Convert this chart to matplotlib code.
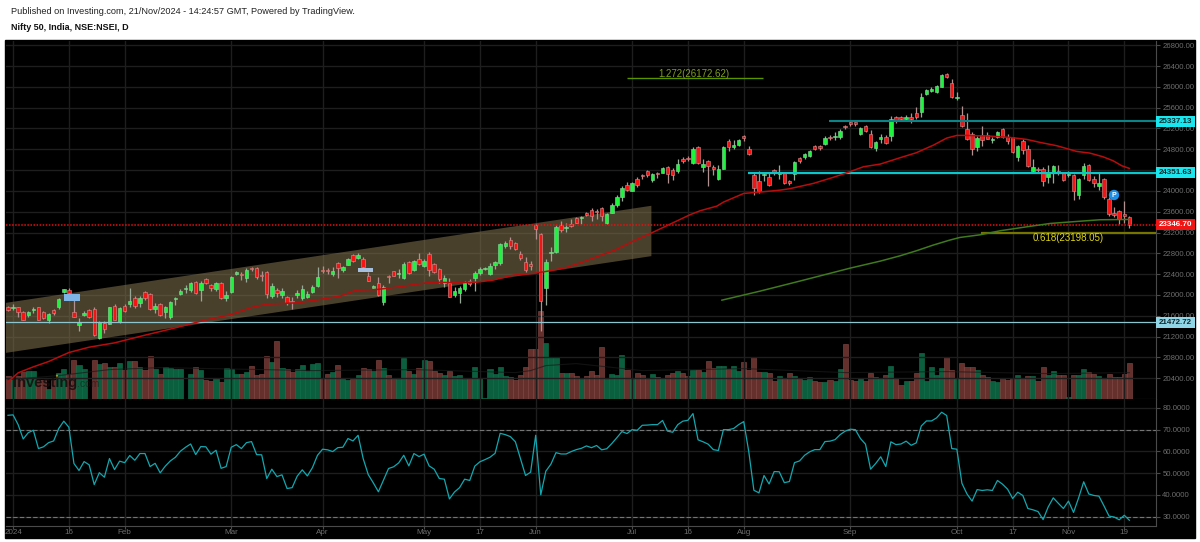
import numpy as np
import matplotlib
matplotlib.use('Agg')
import matplotlib.pyplot as plt
from matplotlib.patches import Rectangle, Polygon, Circle
from matplotlib.transforms import blended_transform_factory

plt.rcParams['font.family'] = ['Liberation Sans', 'DejaVu Sans']

# Daily candles
opens = [21759,21740,21759,21669,21605,21708,21759,21676,21528,21708,
         21772,22054,22092,21663,21419,21611,21720,21727,21182,21458,
         21445,21791,21477,21791,21829,21938,21836,22060,22022,21733,
         21823,21663,21567,21926,22015,22105,22092,22252,22092,22310,
         22182,22105,22233,21945,22054,22406,22393,22329,22522,22522,
         22374,22438,21983,22092,22002,21958,21874,21990,21939,21958,
         22061,22170,22477,22477,22394,22612,22477,22580,22766,22708,
         22695,22355,22125,22234,21862,22349,22452,22400,22323,22625,
         22471,22695,22560,22785,22586,22503,22234,22234,21990,22035,
         22112,22266,22323,22420,22503,22400,22580,22605,22939,23054,
         22996,22785,22631,22593,23349,23179,22125,22810,22817,23336,
         23291,23362,23477,23477,23580,23631,23612,23669,23387,23579,
         23720,23880,24105,24002,24233,24297,24374,24207,24336,24348,
         24464,24400,24387,24605,24630,24528,24848,24451,24579,24451,
         24220,24425,24951,24836,24880,25047,24797,24310,24195,24297,
         24259,24393,24323,24336,24195,24323,24637,24656,24669,24861,
         24855,24900,25034,25028,25028,25252,25329,25316,25098,25252,
         25092,24816,24989,25034,25060,25425,25412,25387,25412,25489,
         25521,25868,25925,25900,26002,26252,26066,25784,25457,25188,
         25092,24836,25066,25066,24977,25028,25188,25028,25028,24656,
         24964,24797,24387,24413,24425,24259,24336,24374,24348,24297,
         24310,23925,24310,24496,24220,24092,24233,23836,23566,23605,
         23547,23496]
closes = [21720,21765,21676,21528,21669,21733,21528,21560,21631,21644,
          21913,22105,22028,21579,21483,21656,21579,21227,21477,21355,
          21759,21528,21740,21695,21881,21785,21938,21938,21733,21797,
          21611,21759,21861,21938,22067,22118,22220,22041,22233,22220,
          22124,22220,21945,21996,22349,22432,22374,22483,22496,22336,
          22361,22015,22169,22028,22073,21836,21861,22041,22105,22016,
          22144,22336,22452,22458,22452,22509,22528,22682,22644,22766,
          22528,22272,22163,21990,22157,22336,22368,22413,22593,22413,
          22657,22593,22650,22484,22432,22298,22317,21964,22073,22125,
          22221,22208,22420,22490,22522,22554,22631,22977,23003,22939,
          22887,22702,22484,22554,23272,21887,22631,22830,23310,23246,
          23310,23317,23387,23490,23541,23522,23586,23515,23547,23727,
          23880,24047,24015,24150,24118,24278,24297,24323,24323,24438,
          24316,24310,24515,24579,24618,24804,24528,24515,24477,24413,
          24419,24836,24836,24874,24970,25015,24707,24054,23996,24310,
          24111,24342,24361,24143,24143,24553,24566,24707,24771,24810,
          24823,25021,25015,25053,25156,25227,25278,25278,25207,25143,
          24848,24938,25041,24912,25380,25361,25380,25425,25387,25412,
          25803,25938,25951,26009,26227,26182,25810,25797,25252,24996,
          24797,25015,24977,25002,25002,25137,25041,24964,24746,24861,
          24784,24477,24451,24393,24195,24361,24477,24348,24207,24323,
          24002,24220,24477,24207,24143,24143,23874,23554,23541,23464,
          23515,23348]
highs = [21785,21823,21772,21682,21695,21765,21772,21695,21656,21733,
         21938,22118,22131,21996,21554,21688,21733,21759,21490,21502,
         21772,21823,21759,21823,22143,21977,21977,22079,22041,21836,
         21849,21797,21887,21964,22105,22188,22246,22272,22272,22323,
         22208,22246,22252,22067,22361,22458,22432,22509,22541,22541,
         22464,22458,22220,22124,22143,21977,21964,22092,22182,22067,
         22195,22541,22548,22516,22528,22637,22554,22702,22785,22798,
         22734,22432,22195,22336,22182,22375,22464,22490,22637,22650,
         22670,22810,22695,22817,22618,22516,22381,22317,22144,22176,
         22272,22304,22452,22528,22541,22605,22657,23003,23041,23118,
         23022,22836,22721,22657,23362,23195,22682,22913,23336,23426,
         23387,23451,23490,23516,23593,23663,23644,23695,23579,23759,
         23919,24092,24175,24175,24259,24323,24400,24348,24361,24451,
         24477,24432,24605,24643,24669,24836,24861,24605,24592,24496,
         24502,24861,25002,24977,24989,25079,24861,24336,24387,24336,
         24336,24425,24489,24348,24207,24566,24656,24720,24784,24874,
         24874,25053,25066,25130,25182,25271,25348,25329,25233,25271,
         25169,24964,25092,25073,25438,25438,25438,25457,25489,25618,
         25874,25964,26002,26028,26239,26271,26143,25906,25637,25489,
         25137,25053,25246,25137,25041,25156,25214,25092,25041,24887,
         24989,24874,24618,24464,24451,24502,24489,24489,24368,24374,
         24323,24239,24541,24515,24284,24348,24246,23887,23682,23631,
         23797,23515]
lows = [21688,21708,21579,21515,21567,21656,21515,21541,21464,21611,
        21733,22028,22002,21567,21304,21592,21560,21208,21156,21272,
        21432,21515,21464,21669,21759,21746,21759,21900,21708,21656,
        21592,21554,21541,21804,21990,22028,22054,22022,21887,22208,
        22079,22079,21926,21887,22041,22374,22284,22252,22451,22310,
        22265,21932,21938,21964,21932,21810,21727,21945,21900,21945,
        22041,22144,22426,22400,22362,22323,22439,22567,22631,22682,
        22503,22259,22105,21977,21798,22221,22355,22330,22311,22400,
        22452,22573,22541,22368,22413,22234,22157,21952,21952,21836,
        22080,22170,22067,22375,22477,22375,22490,22580,22900,22887,
        22862,22670,22432,22477,23080,21310,21810,22657,22798,23208,
        23214,23298,23375,23362,23516,23419,23458,23412,23361,23566,
        23695,23810,23996,23989,24066,24220,24271,24169,24239,24336,
        24156,24207,24348,24528,24579,24515,24515,24361,24092,24310,
        24207,24413,24771,24810,24861,24957,24695,23913,23964,24195,
        24092,24304,24220,24131,24118,24207,24528,24618,24656,24784,
        24784,24880,24977,24977,25002,25195,25246,25252,25073,25130,
        24816,24771,24912,24900,24964,25297,25348,25361,25297,25387,
        25425,25848,25900,25887,25989,26162,25791,25746,25233,24977,
        24695,24771,24861,24989,24925,25009,25021,24900,24733,24579,
        24707,24451,24361,24361,24092,24156,24156,24304,24182,24259,
        23823,23848,24220,24182,24066,24015,23848,23515,23489,23361,
        23374,23284]

# Volume (no scale on the chart, relative units)
volumes = [24,21,24,28,29,29,20,20,11,20,27,31,26,40,35,31,0.5,40,36,37,
           33,33,37,30,39,39,33,30,44,31,26,33,32,31,31,0.5,26,33,30,20,
           19,22,18,32,31,26,26,28,34,25,26,44,38,59,32,31,28,31,35,29,
           36,37,22,26,28,35,22,20,21,25,32,31,29,40,32,25,21,21,42,29,
           26,32,40,39,29,27,25,29,24,25,21,21,33,22,2,31,26,33,24,23,
           20,25,33,51,51,89,57,43,43,27,27,27,24,21,24,29,25,53,21,26,
           25,45,30,21,27,25,22,26,23,22,25,27,29,27,24,30,30,28,39,32,
           34,34,31,34,29,38,30,43,28,28,27,19,24,21,27,24,21,20,23,19,
           18,18,20,19,31,56,20,19,22,19,27,23,22,25,34,22,15,19,19,27,
           47,19,33,25,32,43,30,22,37,33,33,30,25,23,19,18,22,20,22,25,
           21,24,24,19,33,25,29,25,25,3,25,25,31,28,26,24,22,26,23,23,
           26,37]
vol_ma_idx = [0,10,20,30,50,60,80,100,103,106,112,125,145,165,185,205,221]
vol_ma = [20,24,30,32,30,29,30,27,29,34,36,29,31,27,28,26,27]

# RSI
rsi = [76.6,76.8,72.3,65.7,68.6,69.7,61.3,62.1,64.0,64.8,70.5,73.9,71.1,54.4,51.2,55.3,53.8,44.7,50.2,48.1,
       56.7,51.6,55.5,54.8,58.1,55.9,59.0,59.0,53.0,54.5,50.1,53.2,55.6,57.3,60.1,61.9,63.4,58.5,62.2,62.1,
       58.7,60.5,52.2,53.0,61.9,63.1,61.3,64.0,64.5,58.5,58.4,47.5,51.8,48.4,49.2,42.9,43.3,48.6,51.5,48.7,
       52.5,58.2,61.0,60.7,59.9,61.7,61.9,65.9,64.8,67.4,56.7,49.3,45.5,41.4,46.7,52.1,52.9,54.7,58.2,53.3,
       59.0,57.6,58.7,53.3,51.8,47.5,47.2,38.1,41.3,43.3,47.2,46.6,53.2,55.2,56.2,57.3,59.1,68.3,67.7,66.8,
       64.4,56.7,48.9,50.4,67.4,40.0,50.9,54.1,59.4,58.8,58.8,59.9,60.8,61.4,62.5,61.7,62.7,60.7,61.2,63.6,
       66.3,69.1,68.2,70.0,69.7,72.0,72.1,72.3,72.3,74.2,69.3,68.8,72.3,73.9,74.3,77.4,65.3,64.4,63.3,60.8,
       60.4,70.0,70.0,70.5,72.3,73.7,59.8,42.1,40.9,48.9,45.0,50.7,50.6,45.6,46.1,54.8,55.6,58.2,59.8,60.8,
       60.8,64.5,64.7,65.4,67.7,69.3,70.2,70.0,65.9,63.3,51.8,54.4,57.5,53.0,64.4,63.1,63.4,64.7,62.8,63.9,
       71.7,74.0,74.0,75.4,78.0,76.5,61.3,61.0,45.3,40.4,37.1,42.4,42.0,42.3,42.0,46.6,44.9,42.6,38.3,41.2,
       39.7,33.7,33.1,32.3,28.6,34.4,38.6,36.1,33.7,37.1,31.9,38.6,46.0,40.4,39.7,39.4,34.9,30.2,29.8,28.5,
       30.6,28.3]

# Moving averages, read at the bends
ma50_idx = [0,2,5,8,12,16,21,27,33,38,44,48,51,57,61.5,65.4,68.7,72.7,77.2,80.5,83.8,88.4,92.4,95.6,99.6,
            103.5,106.8,110,113.4,116.7,119.6,123.2,126.9,129.8,134.4,136.4,139.7,141,145,148.2,152.2,154,
            158.7,162.6,165.9,168.6,171.9,175.8,179,182.4,185,187,188.8,193.5,197.5,200.8,203.4,206.7,210.6,
            213.2,215.8,217.8,219.5,221]
ma50 = [20329,20503,20618,20720,20893,20996,21079,21227,21368,21496,21624,21759,21823,21849,21913,21977,22093,
        22105,22157,22208,22246,22234,22246,22285,22381,22413,22464,22528,22637,22759,22861,23034,23195,23329,
        23541,23618,23707,23784,23951,23977,24015,24041,24143,24259,24368,24464,24515,24637,24733,24880,25015,
        25066,25066,25053,25028,24989,24932,24868,24759,24727,24656,24579,24483,24432]
ma200_idx = [140.7,148.2,156,166,171.9,175.8,179,182.3,185.6,187.6,191.6,195.5,200.8,205.4,210.7,215.2,220.9]
ma200 = [21900,22073,22265,22516,22650,22752,22848,22957,23054,23105,23156,23233,23310,23374,23413,23445,23451]

# Price and RSI scales
price_ticks = [26800,26400,26000,25600,25200,24800,24400,24000,23600,23200,22800,22400,22000,21600,21200,20800,20400]
rsi_ticks = [80,70,60,50,40,30]
date_pos = [1,12,23,44,62,82,93,104,123,134,145,166,187,198,209,220]
date_labels = ['2024','16','Feb','Mar','Apr','May','17','Jun','Jul','16','Aug','Sep','Oct','17','Nov','19']

W, H = 1200, 542
fig = plt.figure(figsize=(W / 100, H / 100), dpi=100, facecolor='white')


def px_axes(left, top, right, bottom):
    return fig.add_axes([left / W, 1 - bottom / H, (right - left) / W, (bottom - top) / H])


# black background of the whole chart
fig.add_artist(Rectangle((5 / W, 1 - 538 / H), 1190 / W, 498 / H, transform=fig.transFigure, color='black', zorder=-5))
fig.text(11 / W, 1 - 12 / H, 'Published on Investing.com, 21/Nov/2024 - 14:24:57 GMT, Powered by TradingView.',
         fontsize=6.6, color='#222222', va='center')
fig.text(11 / W, 1 - 28 / H, 'Nifty 50, India, NSE:NSEI, D', fontsize=6.5, fontweight='bold', color='#111111', va='center')

x = np.arange(len(closes))
xlim = (-0.39, 226.25)
up = np.array(closes) >= np.array(opens)
grid_c = '#1e1e1e'
axis_c = '#4a4a4a'
label_c = '#6e6e6e'

# volume sits under the price panel on its own scale
vax = px_axes(6, 41, 1156, 399)
vax.set_facecolor('black')
vax.set_xlim(xlim)
vax.set_ylim(0.6, 358.6)
vax.set_axis_off()
vax.bar(x, volumes, width=1.0, color=np.where(up, '#0b5f3e', '#652f2c'),
        edgecolor=np.where(up, '#127550', '#8a4c48'), linewidth=0.4, bottom=0)
vax.plot(vol_ma_idx, vol_ma, color='#1a1a1a', lw=0.8, alpha=0.7)

ax = px_axes(6, 41, 1156, 399)
ax.patch.set_visible(False)
ax.set_xlim(xlim)
ax.set_ylim(20000, 26881)
ax.set_yticks(price_ticks)
# the 24400 label is covered by the 24351.63 tag on the chart
ax.set_yticklabels(['' if t == 24400 else '%.2f' % t for t in price_ticks], fontsize=5.6, color=label_c)
ax.yaxis.tick_right()
ax.set_xticks(date_pos)
ax.set_xticklabels([])
ax.tick_params(axis='y', length=3, color=axis_c, pad=1.5)
ax.tick_params(axis='x', length=0)
ax.grid(True, color=grid_c, lw=1)
ax.set_axisbelow(True)
for s in ['top', 'left']:
    ax.spines[s].set_visible(False)
ax.spines['right'].set_color(axis_c)
ax.spines['bottom'].set_color(axis_c)

# channel
ax.add_patch(Polygon([(-0.4, 21848), (126.8, 23714), (126.8, 22746), (-0.4, 20887)], closed=True,
                     facecolor='#857550', alpha=0.55, edgecolor='none', zorder=1.6))

# candles
wick_c = np.where(up, '#98a898', '#b09090')
ax.vlines(x, lows, highs, colors=wick_c, lw=0.9, zorder=3)
body_bottom = np.minimum(opens, closes)
body_h = np.maximum(np.abs(np.array(closes) - np.array(opens)), 20)
ax.bar(x, body_h, bottom=body_bottom, width=0.68, color=np.where(up, '#1cf53c', '#f51414'),
       edgecolor=np.where(up, '#90d8a0', '#d89090'), linewidth=0.4, zorder=3.2)

ax.plot(ma50_idx, ma50, color='#b80d0d', lw=1.1, zorder=3.5)
ax.plot(ma200_idx, ma200, color='#3f7a1e', lw=1.1, zorder=3.5)

# horizontal levels
ax.axhline(23346.70, color='#e81010', lw=1.1, ls=(0, (1, 1)), zorder=3.4)
ax.axhline(21472.72, color='#8cc4cf', lw=0.9, zorder=3.4)
ax.hlines(24351.63, 145.8, xlim[1], color='#08c8cc', lw=1.6, zorder=3.4)
ax.hlines(25337.13, 161.8, xlim[1], color='#0a8486', lw=1.5, zorder=3.4)
ax.hlines(23198.05, 191.8, xlim[1], color='#757500', lw=1.6, zorder=3.4)
ax.hlines(26172.62, 122, 148.8, color='#5c9400', lw=1, zorder=3.4)
ax.text(135.2, 26246, '1.272(26172.62)', color='#7f9f1c', fontsize=7, ha='center', va='center', zorder=4)
ax.text(208.9, 23085, '0.618(23198.05)', color='#e0d810', fontsize=7, ha='center', va='center', zorder=4)

# small fib boxes
ax.add_patch(Rectangle((11, 21875), 3.2, 141, facecolor='#7fb4e6', edgecolor='none', zorder=3.6))
ax.add_patch(Rectangle((68.9, 22433), 3.1, 88, facecolor='#a8c0e0', edgecolor='none', zorder=3.6))

# price tags on the axis
tag_tr = blended_transform_factory(ax.transAxes, ax.transData)
tags = [(25337.13, '#19e6ee', '#082a2c'), (24351.63, '#19e6ee', '#082a2c'),
        (23346.70, '#f01414', 'white'), (21472.72, '#90d6e6', '#10282e')]
for val, bg, fg in tags:
    ax.add_patch(Rectangle((1.0, val - 105), 39 / 1150, 210, transform=tag_tr, facecolor=bg,
                           edgecolor='none', clip_on=False, zorder=8))
    ax.text(1 + 19.5 / 1150, val, '%.2f' % val, transform=tag_tr, fontsize=5.8, fontweight='bold',
            color=fg, ha='center', va='center', zorder=9)

# "P" marker
fig.add_artist(Circle((1114, H - 195), 5.2, transform=None, facecolor='#1e8fe8', edgecolor='none', zorder=6))
fig.text(1114 / W, 1 - 195.3 / H, 'P', fontsize=5, fontweight='bold', color='white', ha='center', va='center', zorder=7)

# watermark
fig.text(13 / W, 1 - 383 / H, 'Investing', fontsize=10.5, fontweight='bold', color='#140c0c', alpha=0.85, va='center', zorder=6)
fig.text(77 / W, 1 - 384 / H, '.com', fontsize=7.5, color='#1a1414', alpha=0.55, va='center', zorder=6)
fig.add_artist(Circle((57, H - 375.7), 1.1, transform=None, facecolor='#c08a18', edgecolor='none', zorder=7))

# RSI panel
rax = px_axes(6, 399, 1156, 525.5)
rax.set_facecolor('black')
rax.set_xlim(xlim)
rax.set_ylim(25.88, 84.1)
rax.set_yticks(rsi_ticks)
rax.set_yticklabels(['%.4f' % t for t in rsi_ticks], fontsize=5.6, color=label_c)
rax.yaxis.tick_right()
rax.set_xticks(date_pos)
rax.set_xticklabels(date_labels, fontsize=5.8, color=label_c)
rax.tick_params(axis='y', length=3, color=axis_c, pad=1.5)
rax.tick_params(axis='x', length=2, color=axis_c, pad=0.5)
rax.grid(True, color=grid_c, lw=1)
rax.set_axisbelow(True)
for s in ['top', 'left']:
    rax.spines[s].set_visible(False)
rax.spines['right'].set_color(axis_c)
rax.spines['bottom'].set_color(axis_c)
rax.axhline(70, color='#757575', lw=0.8, ls=(0, (4, 2)))
rax.axhline(30, color='#757575', lw=0.8, ls=(0, (4, 2)))
rax.plot(x, rsi, color='#12a8b0', lw=0.9)

fig.savefig('out.png', dpi=100, facecolor='white')
